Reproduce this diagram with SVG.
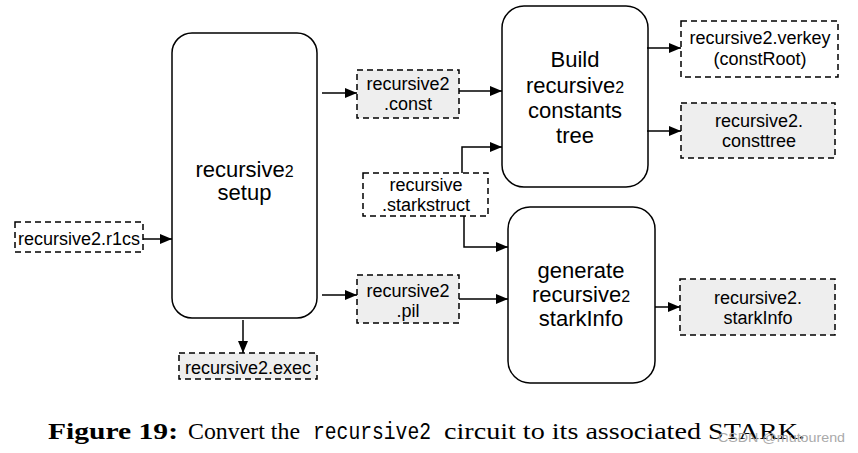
<svg xmlns="http://www.w3.org/2000/svg" width="858" height="453" viewBox="0 0 858 453">
<style>
.big{fill:#fff;stroke:#000;stroke-width:1.5}
.file{fill:#fff;stroke:#000;stroke-width:1.5;stroke-dasharray:6 4}
.grey{fill:#eeeeee}
.bt{font-family:"Liberation Sans",Arial,sans-serif;font-size:22px;fill:#000;text-anchor:middle}
.st{font-family:"Liberation Sans",Arial,sans-serif;font-size:18px;fill:#000;text-anchor:middle}
.sub{font-size:16px}
.edge{fill:none;stroke:#000;stroke-width:1.5;marker-end:url(#arr)}
.cap{font-family:"Liberation Serif","Times New Roman",serif;font-size:24px;fill:#000}
</style>
<defs>
<marker id="arr" markerUnits="userSpaceOnUse" markerWidth="13" markerHeight="11" refX="12" refY="5" orient="auto">
<path d="M0,0 L12,5 L0,10 Z" fill="#000"/>
</marker>
</defs>
<rect width="858" height="453" fill="#fff"/>

<g id="setup">
<rect class="big" x="172" y="33" width="145" height="285" rx="20"/>
<text class="bt" x="244.5" y="177">recursive<tspan class="sub">2</tspan></text>
<text class="bt" x="244.5" y="200">setup</text>
</g>

<g id="r1cs">
<rect class="file" x="15" y="222" width="128" height="30"/>
<text class="st" x="79" y="245">recursive2.r1cs</text>
</g>

<g id="exec">
<rect class="file grey" x="179" y="353" width="138" height="26"/>
<text class="st" x="248" y="374">recursive2.exec</text>
</g>

<g id="const">
<rect class="file grey" x="357" y="70" width="102" height="48"/>
<text class="st" x="408" y="90">recursive2</text>
<text class="st" x="408" y="110">.const</text>
</g>

<g id="starkstruct">
<rect class="file" x="363" y="173" width="125" height="43"/>
<text class="st" x="426" y="191">recursive</text>
<text class="st" x="426" y="211">.starkstruct</text>
</g>

<g id="pil">
<rect class="file grey" x="357" y="275" width="102" height="48"/>
<text class="st" x="408" y="297">recursive2</text>
<text class="st" x="408" y="317">.pil</text>
</g>

<g id="build">
<rect class="big" x="502" y="6" width="146" height="181" rx="22"/>
<text class="bt" x="575" y="67">Build</text>
<text class="bt" x="575" y="93">recursive<tspan class="sub">2</tspan></text>
<text class="bt" x="575" y="118">constants</text>
<text class="bt" x="575" y="143">tree</text>
</g>

<g id="generate">
<rect class="big" x="508" y="207" width="147" height="176" rx="22"/>
<text class="bt" x="581" y="278">generate</text>
<text class="bt" x="581" y="302">recursive<tspan class="sub">2</tspan></text>
<text class="bt" x="581" y="326">starkInfo</text>
</g>

<g id="verkey">
<rect class="file" x="681" y="21" width="157" height="56"/>
<text class="st" x="760" y="44">recursive2.verkey</text>
<text class="st" x="760" y="65">(constRoot)</text>
</g>

<g id="consttree">
<rect class="file grey" x="681" y="103" width="154" height="55"/>
<text class="st" x="759" y="127">recursive2.</text>
<text class="st" x="759" y="147">consttree</text>
</g>

<g id="starkinfo">
<rect class="file grey" x="680" y="279" width="155" height="56"/>
<text class="st" x="758" y="304">recursive2.</text>
<text class="st" x="758" y="324">starkInfo</text>
</g>

<g id="connectors">
<path class="edge" d="M143,239 H172"/>
<path class="edge" d="M243,320 V353"/>
<path class="edge" d="M322,93 H357"/>
<path class="edge" d="M322,295 H357"/>
<path class="edge" d="M459,91 H502"/>
<path class="edge" d="M459,299 H508"/>
<path class="edge" d="M462,173 V147 H502"/>
<path class="edge" d="M464,216 V247 H508"/>
<path class="edge" d="M647,48 H681"/>
<path class="edge" d="M647,131 H681"/>
<path class="edge" d="M655,307 H680"/>
</g>

<g id="caption">
<text class="cap" y="439"><tspan x="48" font-weight="bold" textLength="130" lengthAdjust="spacingAndGlyphs">Figure 19:</tspan><tspan x="188" textLength="112" lengthAdjust="spacingAndGlyphs">Convert the</tspan><tspan x="313" font-family="'Liberation Mono','Courier New',monospace" textLength="118" lengthAdjust="spacingAndGlyphs">recursive2</tspan><tspan x="444" textLength="361" lengthAdjust="spacingAndGlyphs">circuit to its associated STARK.</tspan></text>
<text x="718" y="442" font-family="'Liberation Sans',Arial,sans-serif" font-size="13.5" fill="#aaaaaa" textLength="127" lengthAdjust="spacingAndGlyphs">CSDN @mutourend</text>
</g>
</svg>
